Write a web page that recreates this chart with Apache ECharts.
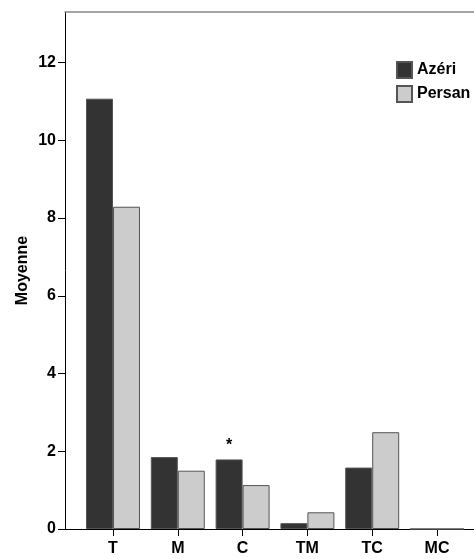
<!DOCTYPE html>
<html>
<head>
<meta charset="utf-8">
<script src="https://cdn.jsdelivr.net/npm/echarts@6/dist/echarts.min.js"></script>
<style>
html,body{margin:0;padding:0;background:#fff;}
#chart{width:474px;height:559px;}
</style>
</head>
<body>
<div id="chart"></div>
<script>
var categories = ['T', 'M', 'C', 'TM', 'TC', 'MC'];
var azeri = [11.07, 1.85, 1.79, 0.15, 1.58, 0];
var persan = [8.29, 1.50, 1.13, 0.43, 2.49, 0];
var seriesNames = ['Azéri', 'Persan'];
var yTicks = [0, 2, 4, 6, 8, 10, 12];
var yMax = 13.3;
var starCategory = 'C';
var starValue = 2.14;
var yTitle = 'Moyenne';

var FONT = '"Liberation Sans", Arial, sans-serif';
var chart = echarts.init(document.getElementById('chart'), null, {renderer: 'canvas'});
var option = {
  backgroundColor: '#ffffff',
  animation: false,
  grid: [
    {left: 65, right: 0, top: 12, bottom: 30},
    {left: 80.6, width: 388.8, top: 12, bottom: 30}
  ],
  legend: {
    data: seriesNames,
    orient: 'vertical',
    left: 391,
    top: 56,
    itemWidth: 15,
    itemHeight: 16,
    itemGap: 6,
    icon: 'rect',
    textStyle: {fontFamily: FONT, fontSize: 16, fontWeight: 'bold', color: '#000'}
  },
  xAxis: [
    {gridIndex: 0, type: 'value', min: 0, max: 1, position: 'bottom',
     axisLine: {show: true, lineStyle: {color: '#000', width: 1}},
     axisTick: {show: false}, axisLabel: {show: false}, splitLine: {show: false}},
    {gridIndex: 0, type: 'value', min: 0, max: 1, position: 'top',
     axisLine: {show: true, lineStyle: {color: '#888', width: 1.5}},
     axisTick: {show: false}, axisLabel: {show: false}, splitLine: {show: false}},
    {gridIndex: 1, type: 'category', data: categories, boundaryGap: true,
     axisLine: {show: false},
     axisTick: {show: true, alignWithLabel: true, length: 7, lineStyle: {color: '#000'}},
     axisLabel: {margin: 12, fontFamily: FONT, fontSize: 16, fontWeight: 'bold', color: '#000'},
     splitLine: {show: false}}
  ],
  yAxis: [
    {gridIndex: 0, type: 'value', min: 0, max: yMax,
     name: yTitle, nameLocation: 'middle', nameGap: 34, nameMoveOverlap: false,
     nameTextStyle: {fontFamily: FONT, fontSize: 16, fontWeight: 'bold', color: '#000'},
     axisLine: {show: true, lineStyle: {color: '#000', width: 1}},
     axisTick: {show: true, length: 7, customValues: yTicks, lineStyle: {color: '#000'}},
     axisLabel: {margin: 9, customValues: yTicks, fontFamily: FONT, fontSize: 16, fontWeight: 'bold', color: '#000'},
     splitLine: {show: false}},
    {gridIndex: 1, type: 'value', min: 0, max: yMax, show: false, splitLine: {show: false}}
  ],
  series: [
    {name: seriesNames[0], type: 'bar', xAxisIndex: 2, yAxisIndex: 1, data: azeri,
     barGap: '0%', barCategoryGap: '16.7%',
     itemStyle: {color: '#333333', borderColor: '#555555', borderWidth: 1},
     markPoint: {
       symbol: 'circle', symbolSize: 0,
       data: [{coord: [starCategory, starValue], value: '*'}],
       label: {show: true, position: 'inside', formatter: '*', fontFamily: FONT, fontSize: 16, fontWeight: 'bold', color: '#000'}
     }},
    {name: seriesNames[1], type: 'bar', xAxisIndex: 2, yAxisIndex: 1, data: persan,
     barGap: '0%', barCategoryGap: '16.7%',
     itemStyle: {color: '#cccccc', borderColor: '#555555', borderWidth: 1}}
  ]
};
chart.setOption(option);
</script>
</body>
</html>
